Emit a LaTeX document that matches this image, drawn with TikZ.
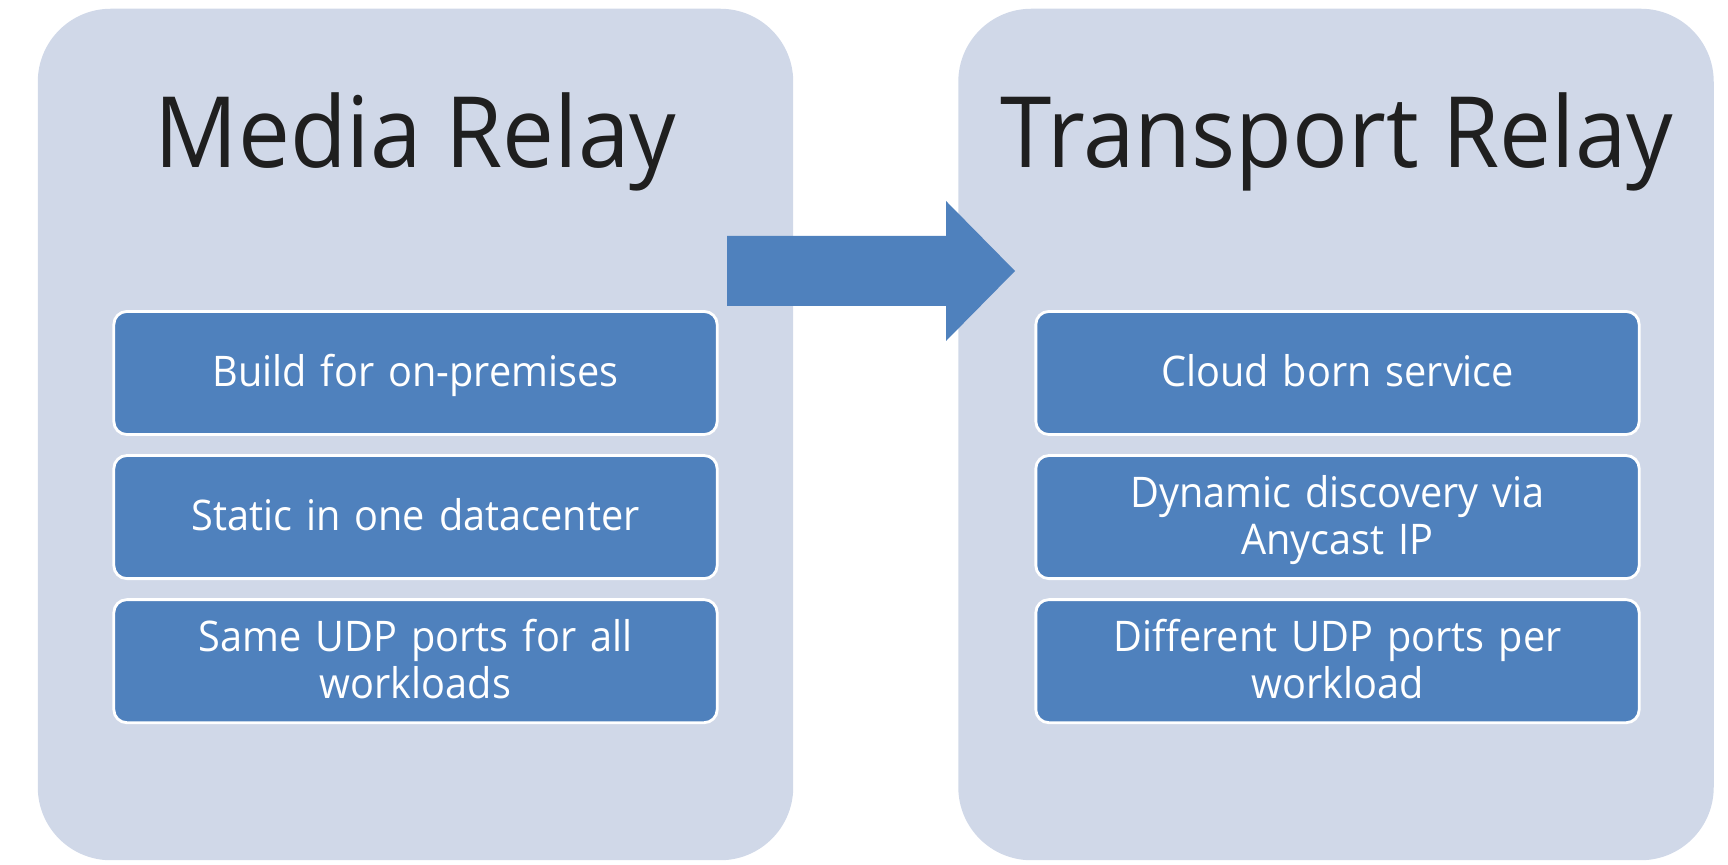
\documentclass[tikz,border=0pt]{standalone}
\usepackage{fontspec}
\setmainfont{Open Sans}[FakeStretch=0.94]
\usetikzlibrary{positioning}

\definecolor{panelgray}{RGB}{208,216,232}
\definecolor{itemblue}{RGB}{79,129,189}

\newcommand\topstrut{\rule{0pt}{10.6pt}}
\newcommand\botstrut{\rule[-2.8pt]{0pt}{2.8pt}}

\tikzset{
  panel/.style={fill=panelgray, rounded corners=0.73cm, minimum width=7.55cm,
    minimum height=8.51cm, inner sep=0pt, outer sep=0pt},
  heading/.style={font=\fontsize{28}{34}\selectfont, text=black!88,
    anchor=base, inner sep=0pt},
  item/.style={fill=itemblue, draw=white, line width=0.8pt,
    rounded corners=0.13cm, minimum width=6.03cm, minimum height=1.23cm,
    text width=5.8cm, align=center, text=white,
    font=\fontsize{12}{13.4}\selectfont, inner sep=0pt, outer sep=0pt,
    execute at begin node=\topstrut, execute at end node=\botstrut}
}

\begin{document}
\begin{tikzpicture}[x=0.01cm, y=-0.01cm, node distance=0.21cm]

      \useasboundingbox (0,0) rectangle (1728,865);

      \node[panel] (media) at (415.5,434.5) {};
      \node[panel] (transport) at (1336,434.5) {};

      \node[heading] (mediaT) at (415.5,168) {Media Relay};
      \node[heading] (transportT) at (1337,168) {Transport Relay};

      \begin{scope}[every node/.style={item}]
        \node (m1) at (415.5,373) {Build for on-premises};
        \node (m2) [below=of m1] {Static in one datacenter};
        \node (m3) [below=of m2] {Same UDP ports for all\\workloads};
        \node (t1) at (1337.5,373) {Cloud born service};
        \node (t2) [below=of t1] {Dynamic discovery via\\Anycast IP};
        \node (t3) [below=of t2] {Different UDP ports per\\workload};
      \end{scope}

      \fill[itemblue] (727,236) -- (946,236) -- (946,201) -- (1015,271)
        -- (946,341) -- (946,306) -- (727,306) -- cycle;

    \end{tikzpicture}
\end{document}
